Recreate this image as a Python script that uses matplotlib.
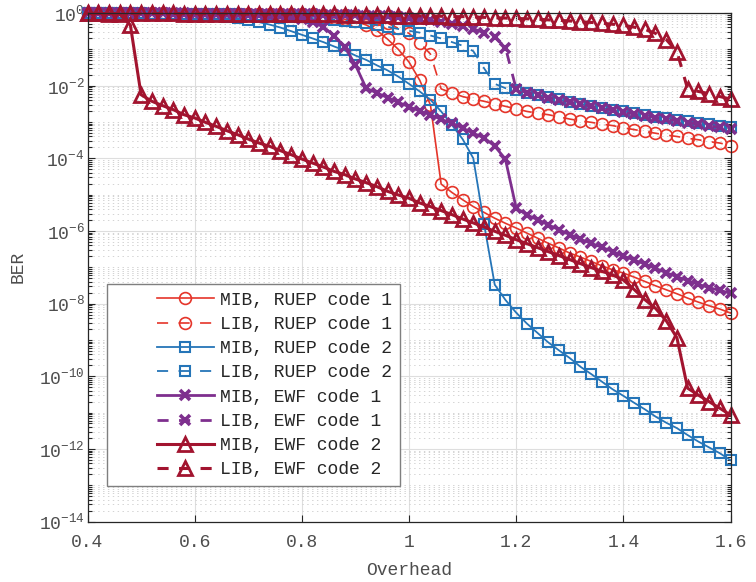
import numpy as np
import matplotlib
matplotlib.use('Agg')
import matplotlib.pyplot as plt
from matplotlib.ticker import LogLocator, FixedLocator, NullFormatter, FixedFormatter
from matplotlib.legend_handler import HandlerLine2D

plt.rcParams['font.family'] = ['Liberation Mono', 'DejaVu Sans Mono']
plt.rcParams['mathtext.default'] = 'regular'
plt.rcParams['lines.scale_dashes'] = False

overhead = [0.40, 0.42, 0.44, 0.46, 0.48, 0.50, 0.52, 0.54, 0.56, 0.58,
            0.60, 0.62, 0.64, 0.66, 0.68, 0.70, 0.72, 0.74, 0.76, 0.78,
            0.80, 0.82, 0.84, 0.86, 0.88, 0.90, 0.92, 0.94, 0.96, 0.98,
            1.00, 1.02, 1.04, 1.06, 1.08, 1.10, 1.12, 1.14, 1.16, 1.18,
            1.20, 1.22, 1.24, 1.26, 1.28, 1.30, 1.32, 1.34, 1.36, 1.38,
            1.40, 1.42, 1.44, 1.46, 1.48, 1.50, 1.52, 1.54, 1.56, 1.58, 1.60]

# log10(BER)
log10_ber_mib_ruep1 = [-0.01, -0.01, -0.01, -0.01, -0.01, -0.02, -0.02, -0.02, -0.02, -0.02,
                       -0.03, -0.03, -0.03, -0.03, -0.04, -0.04, -0.04, -0.05, -0.05, -0.06,
                       -0.07, -0.08, -0.10, -0.13, -0.17, -0.23, -0.33, -0.48, -0.72, -1.00,
                       -1.35, -1.85, -2.53, -4.71, -4.94, -5.14, -5.33, -5.49, -5.65, -5.79,
                       -5.92, -6.06, -6.20, -6.34, -6.47, -6.61, -6.72, -6.84, -6.96, -7.07,
                       -7.16, -7.27, -7.39, -7.51, -7.62, -7.73, -7.85, -7.96, -8.06, -8.15, -8.26]
log10_ber_lib_ruep1 = [-0.01, -0.01, -0.01, -0.01, -0.01, -0.01, -0.01, -0.01, -0.02, -0.02,
                       -0.02, -0.02, -0.02, -0.02, -0.02, -0.03, -0.03, -0.03, -0.03, -0.03,
                       -0.04, -0.04, -0.05, -0.05, -0.06, -0.08, -0.11, -0.17, -0.28, -0.42,
                       -0.56, -0.82, -1.13, -2.09, -2.20, -2.30, -2.37, -2.43, -2.50, -2.57,
                       -2.64, -2.71, -2.76, -2.80, -2.86, -2.92, -2.97, -3.01, -3.06, -3.10,
                       -3.16, -3.21, -3.26, -3.31, -3.36, -3.40, -3.45, -3.49, -3.54, -3.58, -3.65]
log10_ber_mib_ruep2 = [-0.01, -0.01, -0.01, -0.02, -0.02, -0.02, -0.03, -0.03, -0.04, -0.04,
                       -0.05, -0.06, -0.08, -0.10, -0.14, -0.19, -0.25, -0.32, -0.40, -0.50,
                       -0.60, -0.70, -0.80, -0.92, -1.03, -1.17, -1.29, -1.44, -1.58, -1.75,
                       -1.95, -2.16, -2.39, -2.71, -3.08, -3.47, -4.00, -5.80, -7.48, -7.90,
                       -8.25, -8.55, -8.81, -9.07, -9.29, -9.50, -9.74, -9.94, -10.15, -10.36,
                       -10.54, -10.73, -10.91, -11.11, -11.28, -11.43, -11.62, -11.80, -11.96, -12.12, -12.31]
log10_ber_lib_ruep2 = [-0.01, -0.01, -0.01, -0.01, -0.01, -0.01, -0.02, -0.02, -0.02, -0.02,
                       -0.03, -0.03, -0.03, -0.04, -0.04, -0.05, -0.06, -0.07, -0.08, -0.10,
                       -0.12, -0.14, -0.16, -0.18, -0.21, -0.24, -0.28, -0.33, -0.38, -0.44,
                       -0.49, -0.54, -0.62, -0.70, -0.80, -0.90, -1.05, -1.52, -1.95, -2.07,
                       -2.13, -2.20, -2.26, -2.32, -2.38, -2.44, -2.50, -2.55, -2.61, -2.66,
                       -2.71, -2.76, -2.81, -2.86, -2.90, -2.94, -2.98, -3.02, -3.06, -3.10, -3.14]
log10_ber_mib_ewf1 = [-0.01, -0.01, -0.01, -0.01, -0.01, -0.01, -0.01, -0.01, -0.02, -0.02,
                      -0.02, -0.02, -0.03, -0.03, -0.04, -0.05, -0.06, -0.07, -0.09, -0.12,
                      -0.17, -0.25, -0.38, -0.62, -0.93, -1.43, -2.07, -2.20, -2.33, -2.46,
                      -2.58, -2.70, -2.80, -2.93, -3.03, -3.17, -3.31, -3.44, -3.66, -4.03,
                      -5.37, -5.56, -5.69, -5.83, -5.97, -6.10, -6.23, -6.34, -6.45, -6.57,
                      -6.69, -6.80, -6.91, -7.03, -7.15, -7.26, -7.37, -7.47, -7.56, -7.64, -7.71]
log10_ber_lib_ewf1 = [-0.01, -0.01, -0.01, -0.01, -0.01, -0.01, -0.01, -0.01, -0.01, -0.01,
                      -0.02, -0.02, -0.02, -0.02, -0.02, -0.03, -0.03, -0.03, -0.03, -0.04,
                      -0.04, -0.04, -0.05, -0.05, -0.06, -0.06, -0.07, -0.08, -0.09, -0.11,
                      -0.13, -0.16, -0.20, -0.25, -0.30, -0.37, -0.43, -0.55, -0.66, -0.95,
                      -2.09, -2.19, -2.26, -2.33, -2.39, -2.45, -2.51, -2.57, -2.62, -2.68,
                      -2.73, -2.78, -2.83, -2.88, -2.93, -2.97, -3.02, -3.06, -3.11, -3.15, -3.20]
log10_ber_mib_ewf2 = [-0.01, -0.01, -0.02, -0.03, -0.33, -2.25, -2.43, -2.55, -2.66, -2.80,
                      -2.89, -3.01, -3.12, -3.24, -3.35, -3.47, -3.58, -3.67, -3.79, -3.90,
                      -4.02, -4.13, -4.24, -4.36, -4.45, -4.57, -4.67, -4.78, -4.91, -5.01,
                      -5.10, -5.23, -5.33, -5.44, -5.55, -5.67, -5.78, -5.89, -6.01, -6.12,
                      -6.24, -6.35, -6.46, -6.57, -6.68, -6.79, -6.90, -7.01, -7.11, -7.21,
                      -7.35, -7.61, -7.89, -8.13, -8.47, -8.94, -10.33, -10.52, -10.70, -10.88, -11.07]
log10_ber_lib_ewf2 = [-0.01, -0.01, -0.01, -0.01, -0.01, -0.01, -0.01, -0.01, -0.01, -0.02,
                      -0.02, -0.02, -0.02, -0.02, -0.02, -0.03, -0.03, -0.03, -0.03, -0.03,
                      -0.04, -0.04, -0.04, -0.04, -0.05, -0.05, -0.05, -0.06, -0.06, -0.07,
                      -0.07, -0.08, -0.08, -0.09, -0.10, -0.10, -0.11, -0.12, -0.13, -0.14,
                      -0.15, -0.16, -0.17, -0.19, -0.20, -0.22, -0.24, -0.26, -0.28, -0.31,
                      -0.34, -0.39, -0.45, -0.56, -0.73, -1.06, -2.09, -2.16, -2.22, -2.30, -2.37]

labels = ['MIB, RUEP code 1', 'LIB, RUEP code 1', 'MIB, RUEP code 2', 'LIB, RUEP code 2',
          'MIB, EWF code 1', 'LIB, EWF code 1', 'MIB, EWF code 2', 'LIB, EWF code 2']
series = [log10_ber_mib_ruep1, log10_ber_lib_ruep1, log10_ber_mib_ruep2, log10_ber_lib_ruep2,
          log10_ber_mib_ewf1, log10_ber_lib_ewf1, log10_ber_mib_ewf2, log10_ber_lib_ewf2]

c_red = '#e5352a'
c_blue = '#2575b8'
c_purple = '#7e2f8e'
c_dred = '#a2142f'

styles = [
    dict(color=c_red, marker='o', ms=8.5, mew=1.2, lw=1.2, ls='-'),
    dict(color=c_red, marker='o', ms=8.5, mew=1.2, lw=1.2, ls='--'),
    dict(color=c_blue, marker='s', ms=7.5, mew=1.5, lw=1.3, ls='-'),
    dict(color=c_blue, marker='s', ms=7.5, mew=1.5, lw=1.3, ls='--'),
    dict(color=c_purple, marker='x', ms=6.5, mew=2.6, lw=2.0, ls='-'),
    dict(color=c_purple, marker='x', ms=6.5, mew=2.6, lw=2.0, ls='--'),
    dict(color=c_dred, marker='^', ms=10.5, mew=2.0, lw=2.2, ls='-'),
    dict(color=c_dred, marker='^', ms=10.5, mew=2.0, lw=2.2, ls='--'),
]

fig = plt.figure(figsize=(7.56, 5.82), dpi=100)
ax = fig.add_axes([87.5 / 756, 1 - 521.5 / 582, (730.5 - 87.5) / 756, (521.5 - 13.0) / 582])

x = np.array(overhead)
for vals, lab, st in zip(series, labels, styles):
    ber = 10.0 ** np.array(vals)
    kw = dict(color=st['color'], marker=st['marker'], markersize=st['ms'],
              markeredgewidth=st['mew'], linewidth=st['lw'],
              markerfacecolor='none', markeredgecolor=st['color'], label=lab, clip_on=False)
    line, = ax.plot(x, ber, **kw)
    if st['ls'] == '--':
        line.set_dashes((8.0, 7.5))

ax.set_yscale('log')
ax.set_xlim(0.4, 1.6)
ax.set_ylim(1e-14, 1)

major_y = [10.0 ** (-k) for k in range(0, 15, 2)]
ax.yaxis.set_major_locator(FixedLocator(major_y))
ax.yaxis.set_major_formatter(FixedFormatter(['$10^{%d}$' % (-k) if k else '$10^{0}$' for k in range(0, 15, 2)]))
ax.yaxis.set_minor_locator(LogLocator(base=10, subs=np.arange(1, 10), numticks=200))
ax.yaxis.set_minor_formatter(NullFormatter())
ax.set_xticks([0.4, 0.6, 0.8, 1.0, 1.2, 1.4, 1.6])
ax.set_xticklabels(['0.4', '0.6', '0.8', '1', '1.2', '1.4', '1.6'])

txtc = '#262626'
ax.tick_params(which='both', direction='in', top=True, right=True, colors=txtc, width=0.8)
ax.tick_params(which='major', length=5)
ax.tick_params(which='minor', length=3)
ax.tick_params(axis='x', which='major', labelsize=13, pad=9, labelcolor='#4d4d4d')
ax.tick_params(axis='y', which='major', labelsize=13, pad=2, labelcolor='#4d4d4d')
for sp in ax.spines.values():
    sp.set_color(txtc)
    sp.set_linewidth(0.9)

ax.grid(True, which='major', axis='both', color='#dedede', linewidth=0.8, linestyle='-')
ax.grid(True, which='minor', axis='y', color='#d3d3d3', linewidth=0.7, linestyle=(0, (1, 2.5)))
ax.set_axisbelow(True)

ax.set_xlabel('Overhead', fontsize=13, color='#4d4d4d')
ax.xaxis.set_label_coords(0.5, -0.08)
ax.set_ylabel('BER', fontsize=13, color='#4d4d4d')
ax.yaxis.set_label_coords(-0.095, 0.5)


class ShiftedHandler(HandlerLine2D):
    frac = 0.42

    def create_artists(self, legend, orig_handle, xdescent, ydescent, width, height, fontsize, trans):
        shift = width * self.frac
        return super().create_artists(legend, orig_handle, xdescent - shift, ydescent,
                                      width - shift, height, fontsize, trans)


handles, labs = ax.get_legend_handles_labels()
leg = ax.legend(handles, labs, loc='lower left', bbox_to_anchor=(0.030, 0.069),
                fontsize=13, numpoints=1, handlelength=5.5, handletextpad=0.3,
                labelspacing=0.40, borderpad=0.45, borderaxespad=0, fancybox=False,
                framealpha=1, edgecolor='#7f7f7f',
                handler_map={h: ShiftedHandler() for h in handles})
leg.get_frame().set_linewidth(1.0)
for t in leg.get_texts():
    t.set_color(txtc)

fig.savefig('out.png', dpi=100)
